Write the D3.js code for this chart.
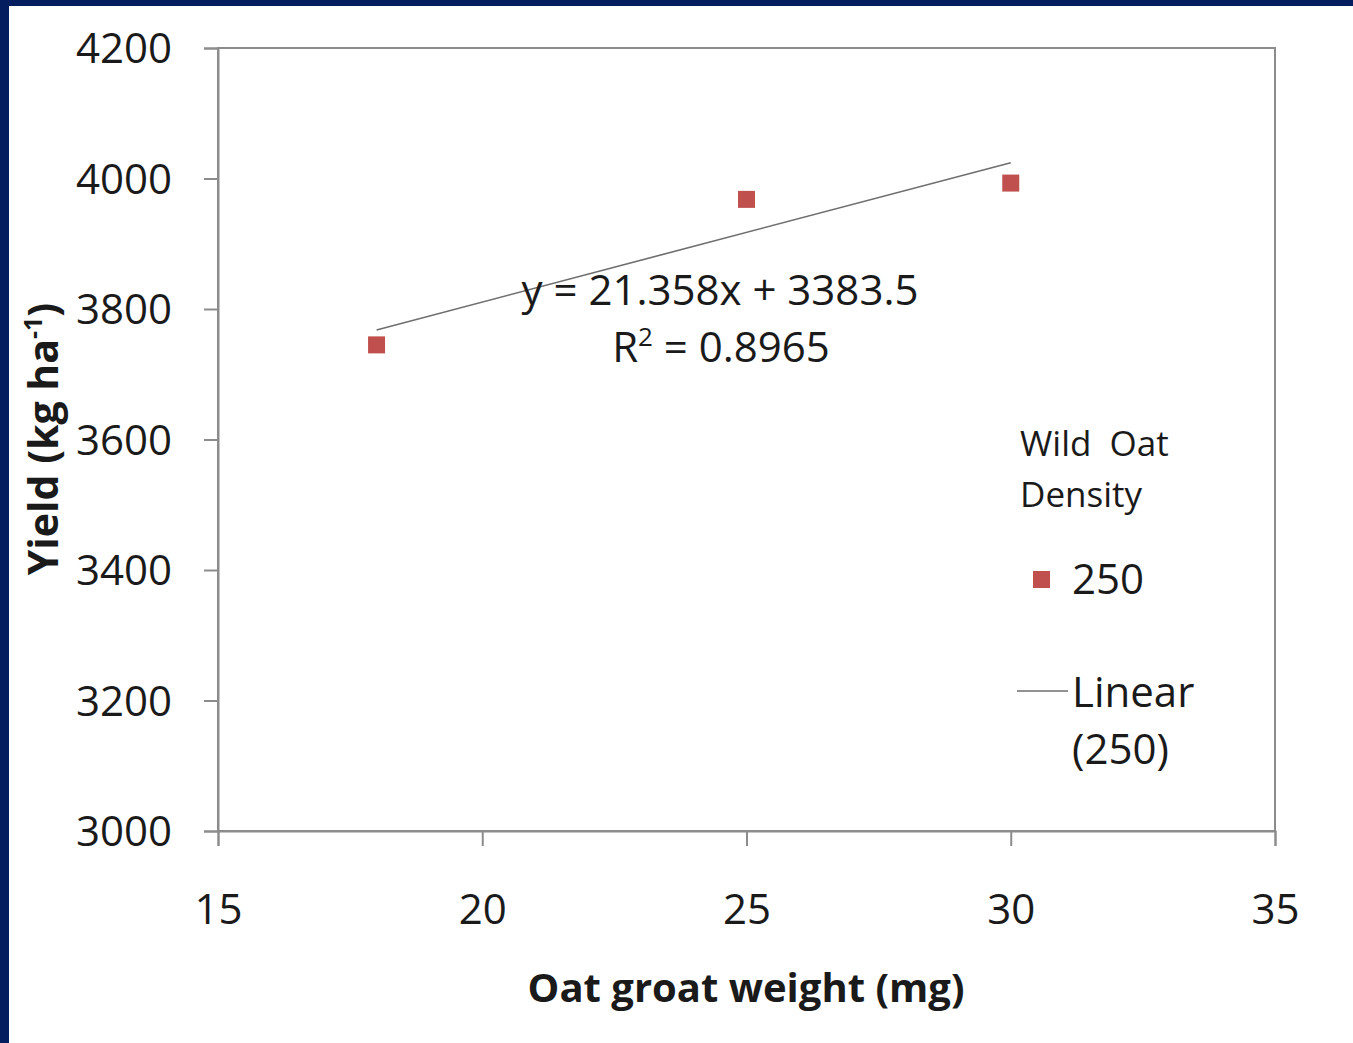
<!DOCTYPE html>
<html><head><meta charset="utf-8">
<script src="https://cdn.jsdelivr.net/npm/d3@7"></script>
<style>
html,body{margin:0;padding:0;background:#fff;}
svg{display:block;}
text{font-family:"Open Sans","Noto Sans",sans-serif;fill:#1a1a1a;white-space:pre;}
</style></head>
<body>
<script>
const xValues = [18, 25, 30];
const yValues = [3745, 3968, 3993];
const seriesName = "250";
const xTicks = [15, 20, 25, 30, 35];
const yTicks = [3000, 3200, 3400, 3600, 3800, 4000, 4200];
const slope = 21.358, intercept = 3383.5;
const eqLabel = "y = 21.358x + 3383.5";
const r2Label = "0.8965";

const W = 1353, H = 1043;
const svg = d3.select("body").append("svg").attr("width", W).attr("height", H);
svg.append("rect").attr("width", W).attr("height", H).attr("fill", "#fff");
// navy frame
svg.append("rect").attr("x",0).attr("y",0).attr("width",W).attr("height",6).attr("fill","#031d5e");
svg.append("rect").attr("x",0).attr("y",0).attr("width",9).attr("height",H).attr("fill","#031d5e");

const L = 218, R = 1275, T = 48, B = 831;
const x = d3.scaleLinear().domain([15, 35]).range([L, R]);
const y = d3.scaleLinear().domain([3000, 4200]).range([B, T]);

// plot frame
svg.append("rect").attr("x", L).attr("y", T).attr("width", R-L).attr("height", B-T)
  .attr("fill","none").attr("stroke","#8c8c8c").attr("stroke-width",2);

const yAxis = svg.append("g").attr("transform",`translate(${L},0)`)
  .call(d3.axisLeft(y).tickValues(yTicks).tickSize(14).tickPadding(32).tickFormat(d3.format("d")));
const xAxis = svg.append("g").attr("transform",`translate(0,${B})`)
  .call(d3.axisBottom(x).tickValues(xTicks).tickSize(15).tickPadding(48).tickFormat(d3.format("d")));
[yAxis, xAxis].forEach(g => {
  g.select(".domain").attr("stroke","#8c8c8c").attr("stroke-width",2);
  g.selectAll(".tick line").attr("stroke","#8c8c8c").attr("stroke-width",2);
  g.selectAll(".tick text").attr("font-size",42).attr("fill","#1a1a1a")
    .attr("font-family",'"Open Sans","Noto Sans",sans-serif');
});
yAxis.selectAll(".tick text").attr("dy","0.35em");

// trendline
const x0 = d3.min(xValues), x1 = d3.max(xValues);
svg.append("line").attr("x1", x(x0)).attr("y1", y(slope*x0+intercept))
  .attr("x2", x(x1)).attr("y2", y(slope*x1+intercept))
  .attr("stroke","#6e6e6e").attr("stroke-width",1.6);

// markers
const ms = 17;
svg.selectAll("rect.pt").data(xValues.map((v,i)=>[v,yValues[i]])).enter()
  .append("rect").attr("class","pt")
  .attr("x", d => x(d[0]) - ms/2).attr("y", d => y(d[1]) - ms/2)
  .attr("width", ms).attr("height", ms).attr("fill","#c0504d");

// equation
svg.append("text").attr("x",720).attr("y",305).attr("text-anchor","middle")
  .attr("font-size",42).text(eqLabel);
const r2 = svg.append("text").attr("x",721).attr("y",362).attr("text-anchor","middle").attr("font-size",42);
r2.append("tspan").text("R");
r2.append("tspan").attr("font-size",26).attr("dy",-16).text("2");
r2.append("tspan").attr("dy",16).text(" = " + r2Label);

// axis titles
svg.append("text").attr("x",746).attr("y",1002).attr("text-anchor","middle")
  .attr("font-size",40).attr("font-weight","bold").text("Oat groat weight (mg)");
const yt = svg.append("text").attr("transform","translate(58,439) rotate(-90)")
  .attr("text-anchor","middle").attr("font-size",41).attr("font-weight","bold");
yt.append("tspan").text("Yield (kg ha");
yt.append("tspan").attr("font-size",25).attr("dy",-16).text("-1");
yt.append("tspan").attr("dy",16).text(")");

// legend
svg.append("text").attr("x",1020).attr("y",456).attr("font-size",35).text("Wild  Oat");
svg.append("text").attr("x",1020).attr("y",507).attr("font-size",35).text("Density");
svg.append("rect").attr("x",1033).attr("y",571).attr("width",17).attr("height",17).attr("fill","#c0504d");
svg.append("text").attr("x",1072).attr("y",594).attr("font-size",42).text(seriesName);
svg.append("line").attr("x1",1017).attr("x2",1068).attr("y1",691).attr("y2",691)
  .attr("stroke","#6e6e6e").attr("stroke-width",1.6);
svg.append("text").attr("x",1072).attr("y",707).attr("font-size",42).text("Linear");
svg.append("text").attr("x",1072).attr("y",764).attr("font-size",42).text("(" + seriesName + ")");
</script>
</body></html>
